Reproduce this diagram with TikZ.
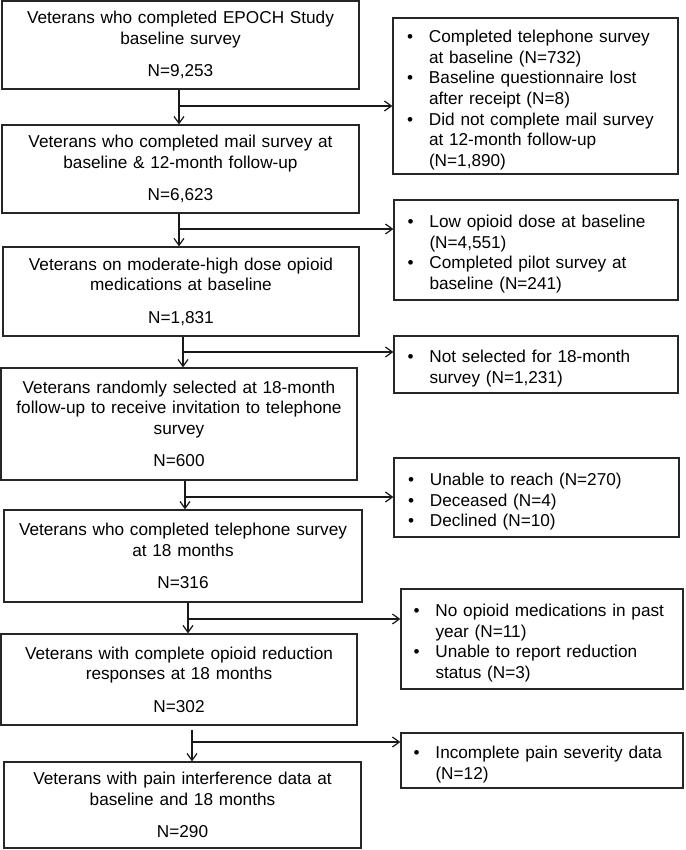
\documentclass[tikz,border=0pt]{standalone}
\usepackage{fontspec}
\setmainfont{Liberation Sans}
\usetikzlibrary{arrows.meta, positioning}

% bullet entry with hanging indent
\newcommand{\bitem}[1]{\par\noindent\makebox[22pt][l]{\textbullet}\parbox[t]{235pt}{#1\par\xdef\bdep{\the\prevdepth}}\par\prevdepth=\bdep\relax}

\begin{document}
\begin{tikzpicture}[
  x=1pt, y=-1pt,
  mainbox/.style={draw=black!85, line width=1.2pt, align=center, text width=350pt, inner xsep=3pt, minimum width=357pt, font=\fontsize{17.2pt}{20.5pt}\selectfont},
  sidebox/.style={draw=black!85, line width=1.2pt, align=left, text width=257pt, inner sep=2pt, font=\fontsize{17.2pt}{20.6pt}\selectfont},
  arr/.style={-{Straight Barb[length=7pt,width=10pt]}, line width=1.2pt, black!90}
]
  \useasboundingbox (0,0) rectangle (685,850);

  % main flow
  \node[mainbox, minimum height=88pt] (b1) at (180.5,45) {Veterans who completed EPOCH Study\\ baseline survey\\[12pt] N=9,253};
  \node[mainbox, minimum height=88pt] (b2) at (180.5,169) {Veterans who completed mail survey at\\ baseline \& 12-month follow-up\\[12pt] N=6,623};
  \node[mainbox, minimum height=89pt, minimum width=356pt] (b3) at (181,291.5) {Veterans on moderate-high dose opioid\\ medications at baseline\\[12pt] N=1,831};
  \node[mainbox, minimum height=112pt, minimum width=356pt] (b4) at (179,424) {Veterans randomly selected at 18-month\\ follow-up to receive invitation to telephone\\ survey\\[12pt] N=600};
  \node[mainbox, minimum height=92pt, minimum width=358pt] (b5) at (183,556) {Veterans who completed telephone survey\\ at 18 months\\[12pt] N=316};
  \node[mainbox, minimum height=91pt, minimum width=356pt] (b6) at (179,679.5) {Veterans with complete opioid reduction\\ responses at 18 months\\[12pt] N=302};
  \node[mainbox, minimum height=86pt] (b7) at (182.5,805) {Veterans with pain interference data at\\ baseline and 18 months\\[12pt] N=290};

  % exclusions
  \node[sidebox, minimum width=285pt, minimum height=156pt] (r1) at (535.5,96) {\bitem{Completed telephone survey\\ at baseline (N=732)}\bitem{Baseline questionnaire lost\\ after receipt (N=8)}\bitem{Did not complete mail survey\\ at 12-month follow-up\\ (N=1,890)}};
  \node[sidebox, minimum width=284pt, minimum height=100pt] (r2) at (536,250) {\bitem{Low opioid dose at baseline\\ (N=4,551)}\bitem{Completed pilot survey at\\ baseline (N=241)}};
  \node[sidebox, minimum width=284pt, minimum height=57pt] (r3) at (536,364.5) {\bitem{Not selected for 18-month\\ survey (N=1,231)}};
  \node[sidebox, minimum width=285pt, minimum height=79pt] (r4) at (536.5,497.5) {\bitem{Unable to reach (N=270)}\bitem{Deceased (N=4)}\bitem{Declined (N=10)}};
  \node[sidebox, minimum width=282pt, minimum height=100pt] (r5) at (542,639) {\bitem{No opioid medications in past\\ year (N=11)}\bitem{Unable to report reduction\\ status (N=3)}};
  \node[sidebox, minimum width=282pt, minimum height=55pt] (r6) at (542,760.5) {\bitem{Incomplete pain severity data\\ (N=12)}};

  % junctions on the stems
  \coordinate (j1) at (179,106);
  \coordinate (j2) at (179,229);
  \coordinate (j3) at (183,352);
  \coordinate (j4) at (185,497);
  \coordinate (j5) at (188,619);
  \coordinate (j6) at (192,742);

  \draw[arr] (b1.south -| j1) -- (b2.north -| j1);
  \draw[arr] (j1) -- (j1 -| r1.west);
  \draw[arr] (b2.south -| j2) -- (b3.north -| j2);
  \draw[arr] (j2) -- (j2 -| r2.west);
  \draw[arr] (b3.south -| j3) -- (b4.north -| j3);
  \draw[arr] (j3) -- (j3 -| r3.west);
  \draw[arr] (b4.south -| j4) -- (b5.north -| j4);
  \draw[arr] (j4) -- (j4 -| r4.west);
  \draw[arr] (b5.south -| j5) -- (b6.north -| j5);
  \draw[arr] (j5) -- (j5 -| r5.west);
  \draw[arr] (b6.south -| j6) ++(0,4) -- (b7.north -| j6);
  \draw[arr] (j6) -- (j6 -| r6.west);
\end{tikzpicture}
\end{document}
